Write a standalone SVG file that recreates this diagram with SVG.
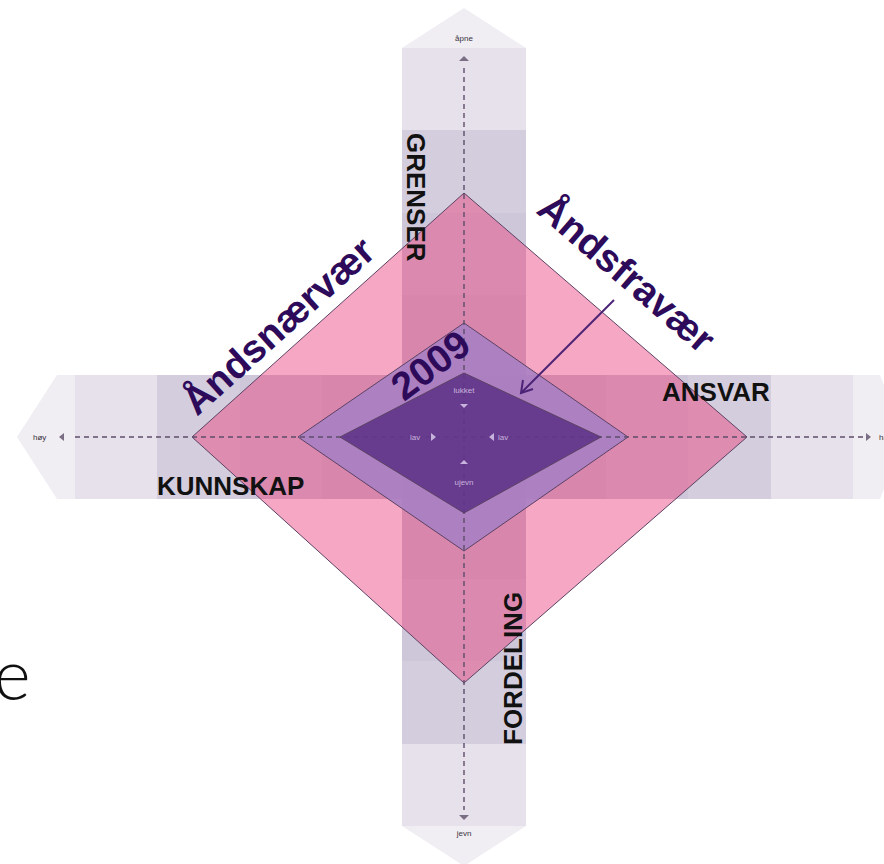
<svg xmlns="http://www.w3.org/2000/svg" width="884" height="864" viewBox="0 0 884 864">
<style>
.cap{fill:#f0edf3}.s1{fill:#e6e1eb}.s2{fill:#d4cdde}.s3{fill:#cec6d9}.s4{fill:#c9c0d5}.sx{fill:#c2b8cf}
.dia{stroke:#5c4264;stroke-width:1;stroke-linejoin:miter}
.axis{stroke:#5d4d6a;stroke-width:1.4;stroke-dasharray:5 4;fill:none}
.tri{fill:#7a6e85}
.small{font-family:"Liberation Sans",Arial,sans-serif;font-size:8px;fill:#3a3340}
.inner{font-family:"Liberation Sans",Arial,sans-serif;font-size:8px;fill:#c7b3dc}
.itri{fill:#c7b3dc}
.big{font-family:"Liberation Sans",Arial,sans-serif;font-weight:bold;font-size:26px;fill:#111}
.lbl{font-family:"Liberation Sans",Arial,sans-serif;font-weight:bold;font-size:39px;fill:#2d0b5a}
</style>
<rect width="884" height="864" fill="#ffffff"/>
<g id="bands">
<polygon class="cap" points="75,375 57,375 17,437 57,499 75,499"/>
<rect class="s1" x="75" y="375" width="82" height="124"/>
<rect class="s2" x="157" y="375" width="83" height="124"/>
<rect class="s3" x="240" y="375" width="82" height="124"/>
<rect class="s4" x="322" y="375" width="80" height="124"/>
<rect class="s4" x="526" y="375" width="80" height="124"/>
<rect class="s3" x="606" y="375" width="82" height="124"/>
<rect class="s2" x="688" y="375" width="83" height="124"/>
<rect class="s1" x="771" y="375" width="82" height="124"/>
<polygon class="cap" points="853,375 880,375 905,437 880,499 853,499"/>
<polygon class="cap" points="402,48 464,8 526,48"/>
<rect class="s1" x="402" y="48" width="124" height="82"/>
<rect class="s2" x="402" y="130" width="124" height="83"/>
<rect class="s3" x="402" y="213" width="124" height="82"/>
<rect class="s4" x="402" y="295" width="124" height="80"/>
<rect class="sx" x="402" y="375" width="124" height="124"/>
<rect class="s4" x="402" y="499" width="124" height="80"/>
<rect class="s3" x="402" y="579" width="124" height="82"/>
<rect class="s2" x="402" y="661" width="124" height="83"/>
<rect class="s1" x="402" y="744" width="124" height="82"/>
<polygon class="cap" points="402,826 526,826 464,866"/>
</g>
<g id="pink-diamond">
<polygon class="dia" points="464,193 747,437 464,683 192,437" fill="#ec447f" fill-opacity="0.47"/>
</g>
<g id="middle-diamond">
<polygon class="dia" points="464,323 628,437 464,551 298,437" fill="#a47fc4" fill-opacity="0.85"/>
</g>
<g id="axes">
<line class="axis" x1="75" y1="437" x2="864" y2="437"/>
<line class="axis" x1="464" y1="68" x2="464" y2="810"/>
<polygon class="tri" points="64,433 64,441 59,437"/>
<polygon class="tri" points="866,433 866,441 871,437"/>
<polygon class="tri" points="459,61 469,61 464,56"/>
<polygon class="tri" points="459,815 469,815 464,820"/>
<text class="small" x="33" y="440">høy</text>
<text class="small" x="879" y="440">høy</text>
<text class="small" x="464" y="41" text-anchor="middle">åpne</text>
<text class="small" x="464" y="836" text-anchor="middle">jevn</text>
</g>
<g id="inner-diamond">
<polygon class="dia" points="464,373 601,437 464,513 340,437" fill="#61368a" fill-opacity="0.92"/>
<text class="inner" x="464" y="393" text-anchor="middle">lukket</text>
<polygon class="itri" points="460,404 468,404 464,408"/>
<text class="inner" x="410" y="440">lav</text>
<polygon class="itri" points="431,433 431,441 436,437"/>
<polygon class="itri" points="494,433 494,441 489,437"/>
<text class="inner" x="498" y="440">lav</text>
<polygon class="itri" points="460,464 468,464 464,460"/>
<text class="inner" x="464" y="485" text-anchor="middle">ujevn</text>
</g>
<g id="labels">
<text class="big" transform="translate(407,133) rotate(90)">GRENSER</text>
<text class="big" transform="translate(522,745) rotate(-90)">FORDELING</text>
<text class="big" x="662" y="401">ANSVAR</text>
<text class="big" x="157" y="495">KUNNSKAP</text>
<text class="lbl" transform="translate(197,417) rotate(-42)">Åndsnærvær</text>
<text class="lbl" transform="translate(535,212) rotate(40.8)">Åndsfravær</text>
<text class="lbl" transform="translate(404,402) rotate(-37)">2009</text>
</g>
<g id="connectors">
<line x1="614" y1="300" x2="522" y2="392" stroke="#4b2377" stroke-width="2"/>
<polyline points="523,380 521,393 533,389" fill="none" stroke="#4b2377" stroke-width="2"/>
</g>
<text x="-6" y="700" font-family="Lato,'Open Sans',sans-serif" font-weight="300" font-size="70" fill="#111">e</text>
</svg>
